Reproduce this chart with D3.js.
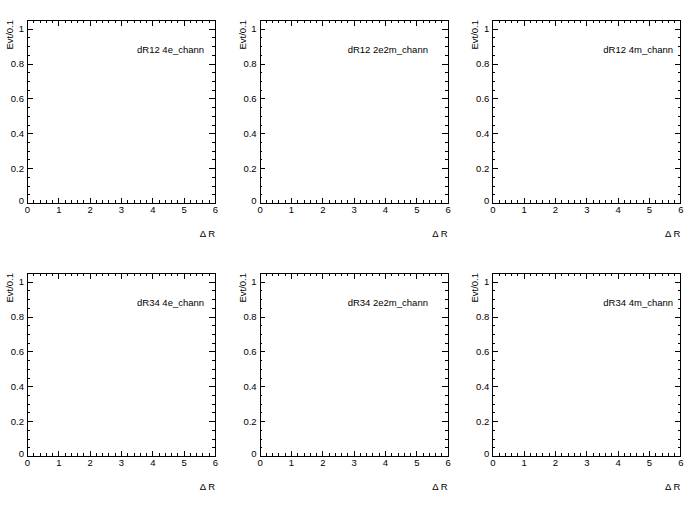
<!DOCTYPE html>
<html>
<head>
<meta charset="utf-8">
<script src="https://cdn.jsdelivr.net/npm/d3@7"></script>
<style>
  body { margin: 0; background: #fff; }
  svg { display: block; }
  text { font-family: "Liberation Sans", Arial, Helvetica, sans-serif; fill: #000; }
  .domain { stroke: none; }
  .tick line { stroke: #000; stroke-width: 1; shape-rendering: crispEdges; }
</style>
</head>
<body>
<svg id="c"></svg>
<script>

// histogram names, one row per variable, one column per channel
var variables = ['dR12', 'dR34'];
var channels = ['4e', '2e2m', '4m'];
// every histogram is empty
var binCounts = [[], [], [], [], [], []];
var xDomain = [0, 6];
var yDomain = [0, 1.05];
var xMajor = [0, 1, 2, 3, 4, 5, 6];
var yMajor = [0, 0.2, 0.4, 0.6, 0.8, 1];
var xTitle = '\u0394 R';
var yTitle = 'Evt/0.1';

var W = 698, H = 506;
var padW = W / 3, padH = 253;
// frame inside each pad
var dims = { left: 27, top: 20, width: 188, height: 183 };
// where the title text starts, per channel column (from frame left)
var titleOffset = [110, 88, 111];
var fontPx = '9.5px';

var svg = d3.select('#c').attr('width', W).attr('height', H);

function ticksBetween(lo, hi, step) {
  var out = [];
  var n = Math.round((hi - lo) / step);
  for (var i = 0; i <= n; i++) out.push(+(lo + i * step).toFixed(4));
  return out;
}
var xMinor = ticksBetween(xDomain[0], xDomain[1], 0.2).filter(function(v) { return xMajor.indexOf(v) < 0; });
var yMinor = ticksBetween(0, 1.05, 0.05).filter(function(v) { return yMajor.indexOf(v) < 0; });

variables.forEach(function(v, r) {
  channels.forEach(function(ch, c) {
    var idx = r * channels.length + c;
    var g = svg.append('g')
      .attr('transform', 'translate(' + (c * padW + dims.left) + ',' + (r * padH + dims.top) + ')');

    var x = d3.scaleLinear().domain(xDomain).range([0, dims.width]);
    var y = d3.scaleLinear().domain(yDomain).range([dims.height, 0]);

    // bins (none filled)
    g.selectAll('.bin').data(binCounts[idx]).enter().append('rect')
      .attr('class', 'bin')
      .attr('x', function(d) { return x(d.x0); })
      .attr('width', function(d) { return x(d.x1) - x(d.x0); })
      .attr('y', function(d) { return y(d.n); })
      .attr('height', function(d) { return dims.height - y(d.n); })
      .attr('fill', 'none').attr('stroke', '#000');

    // bottom axis
    var bot = g.append('g').attr('transform', 'translate(0,' + dims.height + ')');
    bot.call(d3.axisBottom(x).tickValues(xMajor).tickSizeInner(-5.5).tickSizeOuter(0).tickPadding(3)
      .tickFormat(d3.format('d')));
    bot.append('g').call(d3.axisBottom(x).tickValues(xMinor).tickSizeInner(-2.8).tickSizeOuter(0).tickFormat(''));
    bot.selectAll('text').style('font-size', fontPx).attr('dy', '0.71em');

    // top axis, ticks only
    var top = g.append('g');
    top.call(d3.axisTop(x).tickValues(xMajor).tickSizeInner(-5.5).tickSizeOuter(0).tickFormat(''));
    top.append('g').call(d3.axisTop(x).tickValues(xMinor).tickSizeInner(-2.8).tickSizeOuter(0).tickFormat(''));

    // left axis
    var left = g.append('g');
    left.call(d3.axisLeft(y).tickValues(yMajor).tickSizeInner(-5.6).tickSizeOuter(0).tickPadding(3)
      .tickFormat(function(d) { return d === 0 ? '0' : (d === 1 ? '1' : d3.format('.1f')(d)); }));
    left.append('g').call(d3.axisLeft(y).tickValues(yMinor).tickSizeInner(-2.8).tickSizeOuter(0).tickFormat(''));
    left.selectAll('text').style('font-size', fontPx);
    left.selectAll('.tick text').filter(function(d) { return d === 0; }).attr('dy', '0.05em');

    // right axis, ticks only
    var right = g.append('g').attr('transform', 'translate(' + dims.width + ',0)');
    right.call(d3.axisRight(y).tickValues(yMajor).tickSizeInner(-5.6).tickSizeOuter(0).tickFormat(''));
    right.append('g').call(d3.axisRight(y).tickValues(yMinor).tickSizeInner(-2.8).tickSizeOuter(0).tickFormat(''));

    // frame
    g.append('rect')
      .attr('x', 0.5).attr('y', 0.5)
      .attr('width', dims.width).attr('height', dims.height)
      .attr('fill', 'none').attr('stroke', '#000').attr('stroke-width', 1)
      .attr('shape-rendering', 'crispEdges');

    // titles
    g.append('text')
      .attr('x', dims.width).attr('y', dims.height + 34)
      .attr('text-anchor', 'end')
      .style('font-size', fontPx)
      .text(xTitle);

    g.append('text')
      .attr('transform', 'translate(-14,0) rotate(-90)')
      .attr('text-anchor', 'end')
      .style('font-size', fontPx)
      .text(yTitle);

    g.append('text')
      .attr('x', titleOffset[c]).attr('y', 33)
      .style('font-size', fontPx)
      .text(v + ' ' + ch + '_chann');
  });
});
</script>
</body>
</html>
